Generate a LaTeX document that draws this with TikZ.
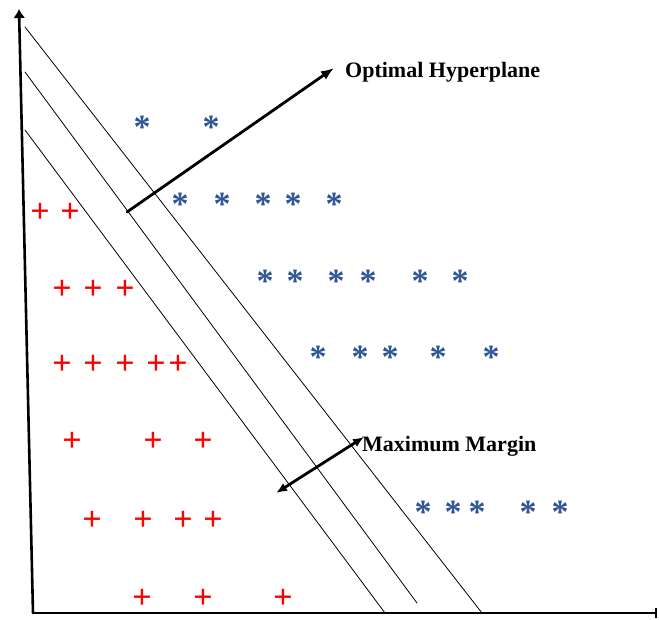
\documentclass[tikz,border=0pt]{standalone}
\usepackage{fontspec}
\setmainfont{Liberation Serif}
\usetikzlibrary{arrows.meta,calc,positioning}
\definecolor{svmblue}{RGB}{47,85,150}
\definecolor{svmred}{RGB}{255,0,0}

\begin{document}
\begin{tikzpicture}[>=Latex,line cap=round,line join=round,x=1pt,y=-1pt,
  axisline/.style={line width=2.6pt},
  plane/.style={line width=.8pt},
  pointer/.style={line width=2.8pt},
  plusmark/.style={text=svmred,inner sep=0pt,yshift=-2pt,
    font=\fontsize{34}{34}\selectfont\bfseries},
  starmark/.style={text=svmblue,inner sep=0pt,yshift=-4pt,
    font=\fontsize{34}{34}\selectfont\bfseries},
  callout/.style={anchor=west,inner sep=0pt,
    font=\fontsize{22}{22}\selectfont\bfseries}]
 \useasboundingbox (0,0) rectangle (659,619);
 % axes
 \coordinate (origin) at (33,613);
 \coordinate (ytop) at (19,9);
 \coordinate (xend) at (657,613);
 \draw[axisline,-{Latex[length=9pt,width=12pt]}] (origin) -- (ytop);
 \draw[axisline,-{Bar[width=10pt,line width=2pt]}] (origin) -- (xend);
 % hyperplane and the two margins
 \coordinate (upA) at (25,27);   \coordinate (upB) at (482,613);
 \coordinate (midA) at (25,72);  \coordinate (midB) at (417,603);
 \coordinate (lowA) at (25,130); \coordinate (lowB) at (385,613);
 \draw[plane] (upA) -- (upB);
 \draw[plane] (midA) -- (midB);
 \draw[plane] (lowA) -- (lowB);
 % labels
 \node[callout] (optimal) at (345,72) {Optimal Hyperplane};
 \node[callout] (margin) at (362,446) {Maximum Margin};
 \coordinate (hpfoot) at (127,212);
 \coordinate (hphead) at (334,68);
 \draw[pointer,-{Latex[length=13pt,width=10pt]}] (hpfoot) -- (hphead);
 \coordinate (mgA) at (276,493);
 \coordinate (mgB) at (364,437);
 \draw[pointer,{Latex[length=11pt,width=9pt]}-{Latex[length=11pt,width=9pt]}] (mgA) -- (mgB);
 % class one
 \foreach \px/\py [count=\i] in {142/123,211/123,
   180/200,222/200,263/200,293/200,334/200,
   265/277,295/277,336/277,368/277,420/277,460/277,
   318/353,360/353,390/353,438/353,491/353,
   423/508,453/508,477/508,528/508,560/508}
  \node[starmark] (star\i) at (\px,\py) {*};
 % class two
 \foreach \px/\py [count=\i] in {40/211,70/211,
   62/288,93/288,125/288,
   62/363,93/363,125/363,156/363,178/363,
   72/440,153/440,203/440,
   92/519,143/519,183/519,213/519,
   142/597,203/597,283/597}
  \node[plusmark] (plus\i) at (\px,\py) {+};
\end{tikzpicture}
\end{document}
